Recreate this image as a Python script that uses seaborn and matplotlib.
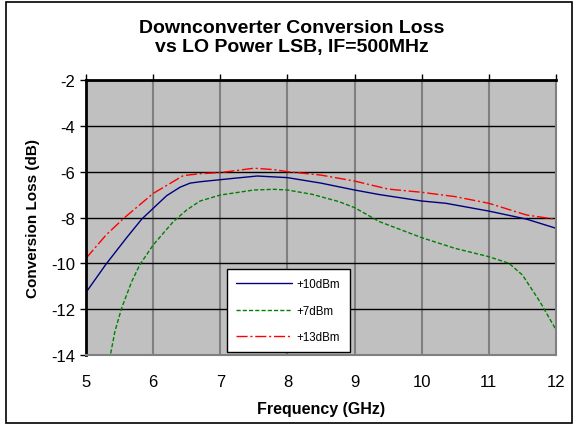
import matplotlib
matplotlib.use('Agg')
import matplotlib.pyplot as plt
import seaborn as sns
import pandas as pd
from matplotlib.patches import Rectangle

# valeurs
freq_10 = [5.0, 5.3, 5.6, 5.83, 6.0, 6.2, 6.4, 6.55, 6.7, 6.9, 7.2, 7.55, 8.0, 8.5, 9.0, 9.37, 10.0, 10.36, 11.0, 11.56, 12.0]
loss_10 = [-11.27, -10.03, -8.9, -8.07, -7.6, -7.05, -6.68, -6.5, -6.44, -6.38, -6.29, -6.19, -6.26, -6.5, -6.8, -7.0, -7.28, -7.38, -7.72, -8.07, -8.47]

freq_7 = [5.35, 5.43, 5.53, 5.68, 5.8, 6.0, 6.3, 6.5, 6.7, 7.0, 7.5, 7.8, 8.0, 8.37, 8.77, 9.0, 9.37, 10.0, 10.5, 11.0, 11.3, 11.5, 11.76, 12.0]
loss_7 = [-14.2, -12.98, -11.96, -10.8, -10.07, -9.2, -8.18, -7.67, -7.28, -7.02, -6.8, -6.77, -6.8, -6.99, -7.31, -7.57, -8.18, -8.88, -9.35, -9.71, -10.0, -10.51, -11.67, -12.9]

freq_13 = [5.0, 5.3, 5.56, 6.0, 6.45, 6.7, 7.0, 7.5, 7.8, 8.0, 8.5, 9.0, 9.5, 10.0, 10.5, 11.0, 11.56, 12.0]
loss_13 = [-9.78, -8.76, -8.04, -6.95, -6.17, -6.09, -6.04, -5.85, -5.91, -6.0, -6.15, -6.41, -6.76, -6.9, -7.09, -7.38, -7.89, -8.08]

sns.set_style('white')
plt.rcParams['font.family'] = ['Liberation Sans', 'DejaVu Sans']
plt.rcParams['axes.unicode_minus'] = False
for cle in ['text.color', 'axes.labelcolor', 'xtick.color', 'ytick.color']:
    plt.rcParams[cle] = 'black'

fig = plt.figure(figsize=(5.76, 4.27), dpi=100)
ax = fig.add_axes([86 / 576, 71 / 427, 470 / 576, 275 / 427])
ax.set_facecolor('#C0C0C0')

series = [
    (freq_10, loss_10, '+10dBm', '#000080', '-'),
    (freq_7, loss_7, '+7dBm', '#008000', (0, (3, 1.5))),
    (freq_13, loss_13, '+13dBm', '#FF0000', (0, (8, 2, 1.5, 2))),
]
for xs, ys, nom, couleur, style in series:
    df = pd.DataFrame({'freq': xs, 'loss': ys})
    sns.lineplot(data=df, x='freq', y='loss', ax=ax, color=couleur,
                 linestyle=style, linewidth=1.0, label=nom, sort=False)

ax.set_xlim(5, 12)
ax.set_ylim(-14, -2)
ax.set_xticks(range(5, 13))
ax.set_yticks(range(-14, -1, 2))

# grille : horizontales noires, verticales grises
for y in range(-12, -1, 2):
    ax.axhline(y, color='black', linewidth=1.0, zorder=0.5)
for x in range(6, 12):
    ax.axvline(x, color='#808080', linewidth=1.5, zorder=0.4)

for cote in ['bottom', 'right']:
    ax.spines[cote].set_color('#808080')
    ax.spines[cote].set_linewidth(1.5)
for cote in ['top', 'left']:
    ax.spines[cote].set_color('black')
    ax.spines[cote].set_linewidth(2.0)

ax.tick_params(axis='x', top=True, bottom=False, labelbottom=True, labeltop=False,
               direction='out', length=4, width=1, color='black', labelsize=12, pad=10)
ax.tick_params(axis='y', left=True, direction='out', length=4, width=1,
               color='black', labelsize=12, pad=4)

ax.set_xlabel('Frequency (GHz)', fontsize=11.5, fontweight='bold', labelpad=8)
ax.set_ylabel('Conversion Loss (dB)', fontsize=11, fontweight='bold', labelpad=8)

leg = ax.legend(loc='upper left', bbox_to_anchor=((227 - 86) / 470, (356 - 270) / 275),
                frameon=True, fancybox=False, framealpha=1, edgecolor='black',
                fontsize=8.3, handlelength=4.8, labelspacing=1.25, borderpad=0.8,
                handletextpad=0.45, borderaxespad=0)
leg.get_frame().set_linewidth(1.0)

fig.text(292 / 576, 1 - 38 / 427, 'Downconverter Conversion Loss\nvs LO Power LSB, IF=500MHz',
         ha='center', va='center', fontsize=14, fontweight='bold', linespacing=1.2)

fig.patches.append(Rectangle((6 / 576, 3 / 427), 566 / 576, 421 / 427, transform=fig.transFigure,
                             fill=False, edgecolor='black', linewidth=1.2))

fig.savefig('out.png', dpi=100)
